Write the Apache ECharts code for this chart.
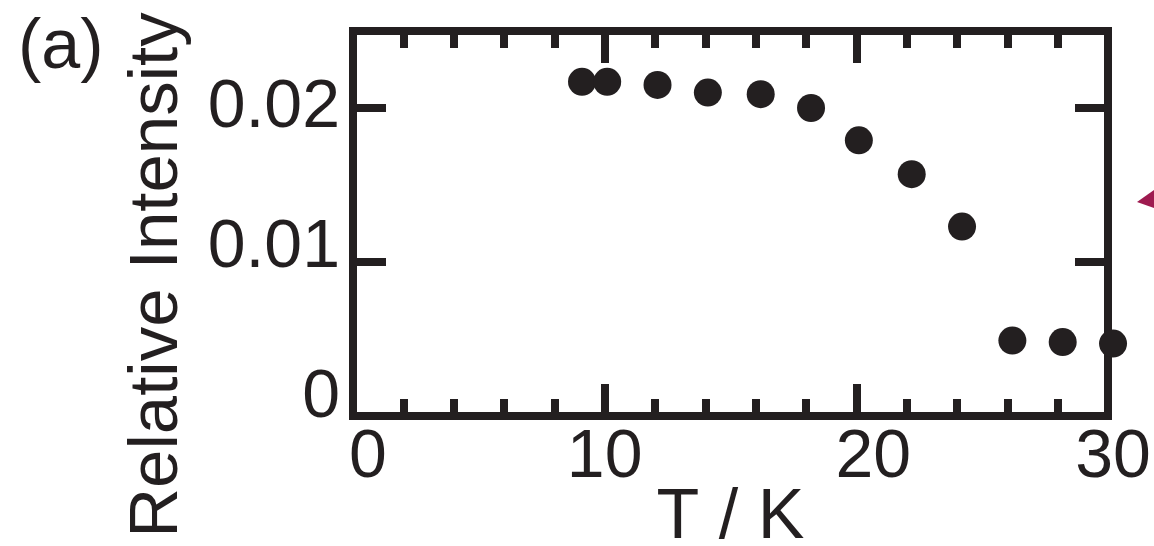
<!DOCTYPE html>
<html>
<head>
<meta charset="utf-8">
<script src="https://cdn.jsdelivr.net/npm/echarts@6/dist/echarts.min.js"></script>
<style>
  html, body { margin: 0; padding: 0; background: #fff; }
  #chart { width: 1154px; height: 546px; }
</style>
</head>
<body>
<div id="chart"></div>
<script>
// 数据
var temperature = [9.1, 10.1, 12.1, 14.1, 16.2, 18.2, 20.1, 22.2, 24.2, 26.2, 28.2, 30.2];
var relIntensity = [0.0217, 0.0217, 0.0215, 0.0210, 0.0209, 0.0200, 0.0179, 0.0157, 0.0123, 0.0049, 0.0048, 0.0047];
var xTickLabels = ['0', '10', '20', '30'];
var yTickLabels = ['0', '0.01', '0.02'];

var ink = '#231f20';
var font = "'Liberation Sans', Arial, sans-serif";

// 原图中刻度文字位置不太规则，用 rich 的 padding 微调
var xLabelPad = [[0, 0, 0, 30], [0, 0, 0, 0], [0, 0, 0, 34], [0, 0, 0, 10]];
var yLabelPad = [[0, 0, 36, 0], [0, 0, 28, 0], [0, 0, 0, 0]];

var xRich = {}, yRich = {};
xLabelPad.forEach(function (p, i) {
    xRich['s' + i] = { fontSize: 68, fontFamily: font, color: ink, padding: p };
});
yLabelPad.forEach(function (p, i) {
    yRich['s' + i] = { fontSize: 68, fontFamily: font, color: ink, padding: p };
});

var axisLineStyle = { color: ink, width: 8, cap: 'square' };

function frameX(pos, showLabel) {
    return {
        type: 'value',
        position: pos,
        min: 0,
        max: 30,
        interval: 10,
        axisLine: { show: true, onZero: false, lineStyle: axisLineStyle },
        axisTick: { show: true, inside: true, length: 32, lineStyle: { color: ink, width: 8 } },
        minorTick: { show: true, splitNumber: 5, length: 17, lineStyle: { color: ink, width: 8 } },
        splitLine: { show: false },
        axisLabel: {
            show: showLabel,
            margin: 8,
            formatter: function (v) {
                var i = Math.round(v / 10);
                return '{s' + i + '|' + xTickLabels[i] + '}';
            },
            rich: xRich
        }
    };
}

function frameY(pos, showLabel) {
    return {
        type: 'value',
        position: pos,
        min: 0,
        max: 0.025,
        interval: 0.01,
        axisLine: { show: true, onZero: false, lineStyle: axisLineStyle },
        axisTick: { show: true, inside: true, length: 33, lineStyle: { color: ink, width: 8 } },
        splitLine: { show: false },
        axisLabel: {
            show: showLabel,
            margin: 13,
            showMaxLabel: false,
            formatter: function (v) {
                var i = Math.round(v * 100);
                if (i > 2) return '';
                return '{s' + i + '|' + yTickLabels[i] + '}';
            },
            rich: yRich
        }
    };
}

var xBottom = frameX('bottom', true);
xBottom.name = 'T / K';
xBottom.nameLocation = 'middle';
xBottom.nameGap = 68;
xBottom.nameMoveOverlap = false;
xBottom.nameTextStyle = { fontSize: 70, fontFamily: font, color: ink };

var option = {
    animation: false,
    backgroundColor: '#fff',
    grid: { left: 353, right: 46, top: 31, bottom: 130, outerBoundsMode: 'none', containLabel: false },
    xAxis: [xBottom, frameX('top', false)],
    yAxis: [frameY('left', true), frameY('right', false)],
    graphic: [
        {
            type: 'text',
            x: 158,
            y: 275,
            rotation: Math.PI / 2,
            style: {
                text: 'Relative Intensity',
                fontSize: 69,
                fontFamily: font,
                fill: ink,
                textAlign: 'center',
                textVerticalAlign: 'middle'
            }
        },
        {
            type: 'text',
            x: 18,
            y: 49,
            style: {
                text: '(a)',
                fontSize: 70,
                fontFamily: font,
                fill: ink,
                textAlign: 'left',
                textVerticalAlign: 'middle'
            }
        },
        {
            // 右侧被裁掉的箭头
            type: 'polygon',
            shape: { points: [[1137, 202], [1154, 190], [1154, 208]] },
            style: { fill: '#9e1a4f' }
        }
    ],
    series: [{
        type: 'scatter',
        xAxisIndex: 0,
        yAxisIndex: 0,
        clip: false,
        symbol: 'circle',
        symbolSize: 28,
        itemStyle: { color: ink, opacity: 1 },
        data: temperature.map(function (t, i) { return [t, relIntensity[i]]; }),
        z: 5
    }]
};

var myChart = echarts.init(document.getElementById('chart'));
myChart.setOption(option);
</script>
</body>
</html>
